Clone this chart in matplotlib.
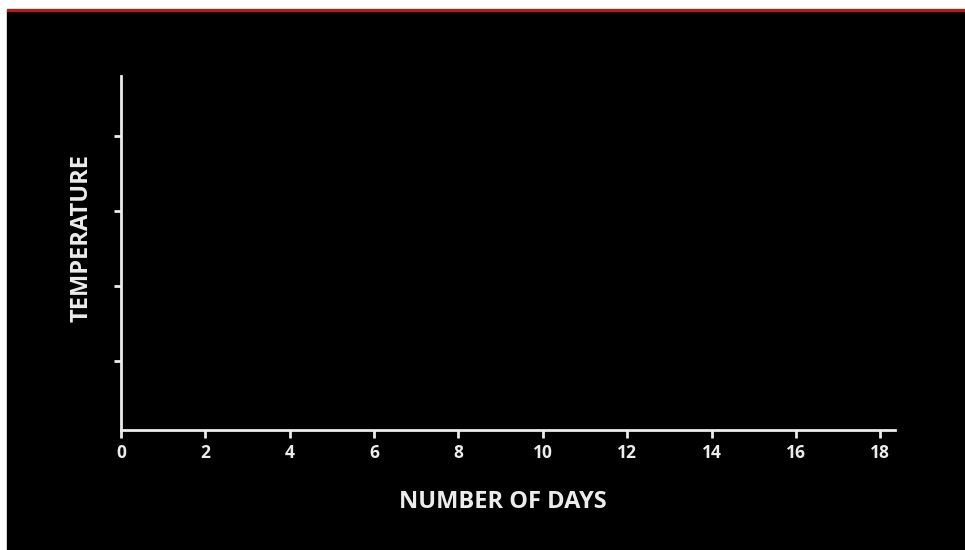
import matplotlib
matplotlib.use("Agg")
import matplotlib.pyplot as plt
from matplotlib.patches import Rectangle

# chart is empty: only axes with ticks
day_ticks = [0, 2, 4, 6, 8, 10, 12, 14, 16, 18]
temp_ticks = [1, 2, 3, 4]
days = []
temps = []

W, H = 965, 550
fg = '#ececec'
plt.rcParams['font.family'] = ['Open Sans', 'DejaVu Sans']

fig = plt.figure(figsize=(W / 100, H / 100), dpi=100, facecolor='white')

# black panel with red top strip (behind the axes)
fig.patches.append(Rectangle((7 / W, 0), 1 - 7 / W, (H - 11) / H,
                             transform=fig.transFigure, color='black', zorder=-2))
fig.patches.append(Rectangle((7 / W, (H - 11) / H), 1 - 7 / W, 2.5 / H,
                             transform=fig.transFigure, color='#a8211c', zorder=-2))

ax = fig.add_axes([121 / W, (H - 430) / H, (895 - 121) / W, (430 - 76) / H])
ax.set_facecolor('black')
ax.plot(days, temps, color=fg)

ax.set_xlim(0, 18.35)
ax.set_ylim(0.076, 4.8)
ax.set_xticks(day_ticks)
ax.set_yticks(temp_ticks)
ax.set_yticklabels([])

for side in ['top', 'right']:
    ax.spines[side].set_visible(False)
for side in ['left', 'bottom']:
    ax.spines[side].set_color(fg)
    ax.spines[side].set_linewidth(2)

ax.tick_params(axis='x', colors=fg, length=6, width=2, labelsize=12.5, pad=4)
ax.tick_params(axis='y', colors=fg, length=5, width=2)
for lbl in ax.get_xticklabels():
    lbl.set_fontweight('bold')

ax.set_xlabel('NUMBER OF DAYS', color=fg, fontsize=17, fontweight='bold',
              labelpad=20, x=0.4935)
ax.set_ylabel('TEMPERATURE', color=fg, fontsize=17, fontweight='bold',
              labelpad=11, y=0.542)

fig.savefig('out.png', dpi=100, facecolor='white')
